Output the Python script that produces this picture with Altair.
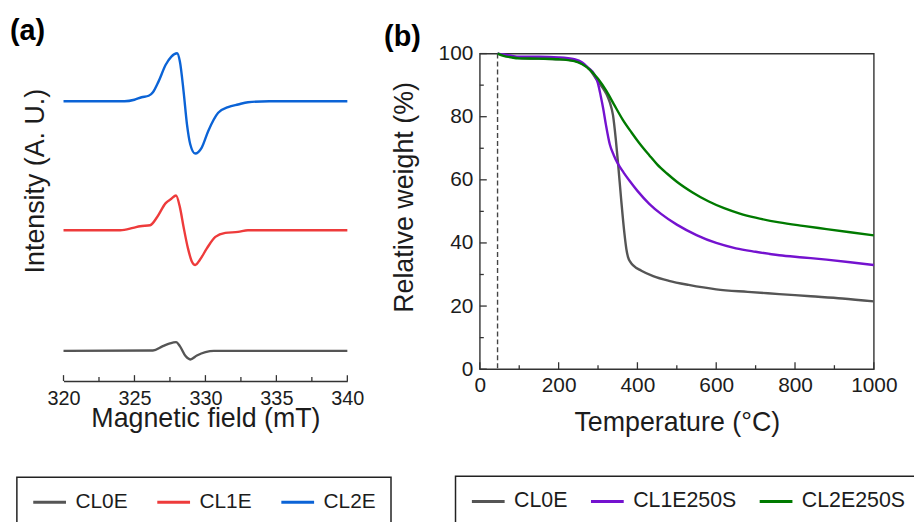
import altair as alt
import pandas as pd

FONT = "Liberation Sans"
INK = "#1c1c1c"
FRAME = "#333333"

# ---------------- (a) EPR spectra: field (mT) vs derivative signal (a.u.) ----------------
epr_names = ["CL0E", "CL1E", "CL2E"]
epr_colors = ["#555555", "#ee3b3b", "#0b63d6"]
epr_offsets = [30.5, 152.0, 282.0]  # vertical stacking of the traces

cl0e_field = [320, 326.3, 327.0, 327.5, 327.93, 328.2, 328.6, 328.93, 329.4, 330.0, 330.6, 340]
cl0e_signal = [0, 0.3, 4.7, 7.5, 8.7, 4.7, -5.3, -8.7, -4.7, -1.3, 0, 0]

cl1e_field = [320, 324.0, 324.9, 325.4, 326.1, 326.6, 327.2, 327.6, 327.93, 328.2, 328.46,
              328.77, 329.05, 329.28, 329.6, 330.1, 330.7, 331.4, 332.3, 333.0, 340]
cl1e_signal = [0, 0, 2.3, 4, 5, 13.3, 27.3, 31.7, 35, 23.3, 3.3,
               -18.3, -31.7, -35, -30, -18.3, -6.7, -2.7, -1.7, 0, 0]

cl2e_field = [320, 324.3, 325.0, 325.5, 326.0, 326.3, 326.7, 327.2, 327.6, 328.0, 328.2, 328.46,
              328.7, 328.93, 329.28, 329.74, 330.2, 330.9, 331.6, 332.3, 333.0, 334.5, 340]
cl2e_signal = [0, 0, 1.5, 4.0, 5.5, 9, 20, 36.7, 45, 48.3, 40, 10,
               -23.3, -43.3, -52.7, -46.7, -30, -11.7, -6, -3.3, -1, 0, 0]

epr_major = [320, 325, 330, 335, 340]
epr_minor = [322.5, 327.5, 332.5, 337.5]

# ---------------- (b) TGA: temperature (°C) vs relative weight (%) ----------------
tga_names = ["CL0E", "CL1E250S", "CL2E250S"]
tga_colors = ["#555555", "#7412cf", "#007a00"]
start_temp = [45]

cl0e_temp = [45, 60, 80, 100, 150, 200, 240, 260, 280, 295, 310, 322, 330, 338, 345, 351, 359,
             367, 372, 376, 382, 390, 410, 440, 480, 530, 600, 680, 760, 840, 920, 1000]
cl0e_weight = [100, 99.6, 99.0, 98.6, 98.4, 98.2, 97.7, 96.8, 94.8, 92.0, 89.5, 87.0, 84.5, 80.5, 73, 65, 53.4,
               43, 38, 35.6, 34, 32.8, 31.2, 29.5, 28.0, 26.7, 25.3, 24.5, 23.8, 23.1, 22.4, 21.5]

cl1e250s_temp = [45, 60, 80, 100, 150, 200, 240, 260, 275, 290, 300, 307, 313, 320, 330, 340, 350,
                 365, 380, 400, 430, 460, 500, 550, 600, 650, 700, 760, 820, 880, 940, 1000]
cl1e250s_weight = [100, 99.7, 99.3, 99.0, 99.0, 98.8, 98.2, 97.2, 95.5, 93.5, 90.5, 86.5, 82.7, 77.5, 71.2, 67.8, 65.2,
                   62.3, 59.7, 56.5, 52.4, 49.2, 45.8, 42.5, 40.0, 38.3, 37.2, 36.1, 35.4, 34.7, 33.9, 33.0]

cl2e250s_temp = [45, 60, 80, 100, 150, 200, 240, 260, 280, 300, 322, 340, 363, 385, 405, 430, 450,
                 475, 500, 540, 580, 620, 660, 700, 760, 820, 880, 940, 1000]
cl2e250s_weight = [100, 99.3, 98.8, 98.5, 98.4, 98.2, 97.6, 96.6, 94.8, 92.0, 88.0, 84.0, 79.0, 75.0, 71.6, 67.8, 64.9,
                   62.0, 59.4, 56.0, 53.2, 51.0, 49.3, 48.0, 46.5, 45.4, 44.4, 43.4, 42.4]

tga_xmajor = [0, 200, 400, 600, 800, 1000]
tga_xminor = [100, 300, 500, 700, 900]
tga_ymajor = [0, 20, 40, 60, 80, 100]
tga_yminor = [10, 30, 50, 70, 90]

# ---------------- tables ----------------
epr_rows = []
for name, off, fld, sig in zip(epr_names, epr_offsets,
                               [cl0e_field, cl1e_field, cl2e_field],
                               [cl0e_signal, cl1e_signal, cl2e_signal]):
    for f, s in zip(fld, sig):
        epr_rows.append({"sample": name, "field": f, "intensity": off + s})
epr_df = pd.DataFrame(epr_rows)

tga_rows = []
for name, ts, ws in zip(tga_names,
                        [cl0e_temp, cl1e250s_temp, cl2e250s_temp],
                        [cl0e_weight, cl1e250s_weight, cl2e250s_weight]):
    for t, w in zip(ts, ws):
        tga_rows.append({"sample": name, "temp": t, "weight": w})
tga_df = pd.DataFrame(tga_rows)

W_A, H_A = 286, 330
W_B, H_B = 397, 318

legend_style = dict(
    title=None, orient="none", direction="horizontal",
    symbolType="stroke", symbolSize=1089, symbolStrokeWidth=3,
    labelFont=FONT, labelColor=INK, labelOffset=8,
    padding=15, clipHeight=20, strokeColor="#222222", symbolOffset=0,
)

# ---------------- panel (a) ----------------
x_a = alt.X("field:Q", scale=alt.Scale(domain=[320, 340], nice=False, zero=False),
            axis=alt.Axis(title="Magnetic field (mT)", values=epr_major, format="d",
                          ticks=False, tickSize=0, labelPadding=24, labelBaseline="alphabetic",
                          labelFlush=False, labelFontSize=20, titleY=46, titleBaseline="alphabetic",
                          domainColor=FRAME, domainWidth=1.5, grid=False))
y_a = alt.Y("intensity:Q", scale=alt.Scale(domain=[0, 330], nice=False, zero=False),
            axis=alt.Axis(title="Intensity (A. U.)", domain=False, ticks=False, labels=False, grid=False,
                          titleX=-28, titleY=128, titleAngle=270, titleAlign="center",
                          titleBaseline="middle"))
color_a = alt.Color("sample:N", sort=epr_names,
                    scale=alt.Scale(domain=epr_names, range=epr_colors),
                    legend=alt.Legend(legendX=-47, legendY=427, columnPadding=28, labelFontSize=21,
                                      **legend_style))

lines_a = alt.Chart(epr_df).mark_line(strokeWidth=2.4, interpolate="monotone").encode(
    x=x_a, y=y_a, color=color_a)
major_a = alt.Chart(pd.DataFrame({"field": epr_major})).mark_rule(color=FRAME, strokeWidth=1.3).encode(
    x=x_a, y=alt.value(H_A), y2=alt.value(H_A - 6))
minor_a = alt.Chart(pd.DataFrame({"field": epr_minor})).mark_rule(color=FRAME, strokeWidth=1.3).encode(
    x=x_a, y=alt.value(H_A), y2=alt.value(H_A - 4))

panel_a = alt.layer(lines_a, major_a, minor_a).properties(
    width=W_A, height=H_A,
    title=alt.TitleParams("(a)", anchor="start", frame="group", dx=-54, offset=13, dy=33,
                          baseline="alphabetic", fontSize=29, fontWeight="bold", color="black"))

# ---------------- panel (b) ----------------
x_b = alt.X("temp:Q", scale=alt.Scale(domain=[0, 1000], nice=False, zero=False),
            axis=alt.Axis(title="Temperature (°C)", values=tga_xmajor, format="d", domain=False,
                          ticks=False, tickSize=0, labelPadding=23, labelBaseline="alphabetic",
                          labelFlush=False, titleY=61.5, titleBaseline="alphabetic", grid=False))
y_b = alt.Y("weight:Q", scale=alt.Scale(domain=[0, 100], nice=False, zero=False),
            axis=alt.Axis(title="Relative weight (%)", values=tga_ymajor, format="d", domain=False,
                          ticks=False, tickSize=0, labelPadding=7, grid=False,
                          titleX=-76, titleY=144.5, titleAngle=270, titleAlign="center",
                          titleBaseline="middle"))
color_b = alt.Color("sample:N", sort=tga_names,
                    scale=alt.Scale(domain=tga_names, range=tga_colors),
                    legend=alt.Legend(legendX=-24.5, legendY=426, columnPadding=22, labelFontSize=21.5,
                                      **legend_style))

lines_b = alt.Chart(tga_df).mark_line(strokeWidth=2.4, interpolate="monotone").encode(
    x=x_b, y=y_b, color=color_b)
start_line = alt.Chart(pd.DataFrame({"temp": start_temp})).mark_rule(
    color="#444444", strokeWidth=1.4, strokeDash=[5, 3]).encode(x=x_b)
xmaj_b = alt.Chart(pd.DataFrame({"temp": tga_xmajor})).mark_rule(color=FRAME, strokeWidth=1.3).encode(
    x=x_b, y=alt.value(H_B), y2=alt.value(H_B - 7))
xmin_b = alt.Chart(pd.DataFrame({"temp": tga_xminor})).mark_rule(color=FRAME, strokeWidth=1.3).encode(
    x=x_b, y=alt.value(H_B), y2=alt.value(H_B - 4))
ymaj_b = alt.Chart(pd.DataFrame({"weight": tga_ymajor})).mark_rule(color=FRAME, strokeWidth=1.3).encode(
    y=y_b, x=alt.value(0), x2=alt.value(7))
ymin_b = alt.Chart(pd.DataFrame({"weight": tga_yminor})).mark_rule(color=FRAME, strokeWidth=1.3).encode(
    y=y_b, x=alt.value(0), x2=alt.value(4))

panel_b = alt.layer(start_line, lines_b, xmaj_b, xmin_b, ymaj_b, ymin_b).properties(
    width=W_B, height=H_B,
    view=alt.ViewBackground(stroke=FRAME, strokeWidth=1.4),
    title=alt.TitleParams("(b)", anchor="start", frame="group", dx=-96.5, offset=0, dy=32.5,
                          baseline="alphabetic", fontSize=29, fontWeight="bold", color="black"))

# the legend frames run past the right and bottom edges of the canvas and are clipped there
chart = alt.hconcat(panel_a, panel_b, spacing=133.5, bounds="flush").resolve_scale(
    color="independent"
).properties(
    padding={"left": 10, "top": 14, "right": -8, "bottom": -8},
    background="white",
).configure(font=FONT).configure_view(strokeWidth=0).configure_axis(
    labelFont=FONT, titleFont=FONT, labelFontSize=21, titleFontSize=27,
    labelColor=INK, titleColor=INK, titleFontWeight="normal",
).configure_legend(strokeWidth=1.5).configure_title(font=FONT)

chart.save("out.html", embed_options={"renderer": "svg", "actions": False})
